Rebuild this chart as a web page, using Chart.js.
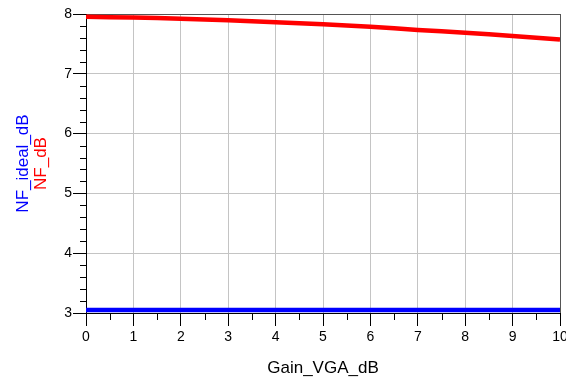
<!DOCTYPE html>
<html>
<head>
<meta charset="utf-8">
<script src="https://cdn.jsdelivr.net/npm/chart.js@4/dist/chart.umd.min.js"></script>
<style>
  html, body { margin: 0; padding: 0; background: #fff; }
  #wrap { width: 566px; height: 381px; }
</style>
</head>
<body>
<div id="wrap"><canvas id="c" width="566" height="381"></canvas></div>
<script>
// Sweep of VGA gain and resulting noise figures
const gainVGA   = [0, 1, 2, 3, 4, 5, 6, 7, 8, 9, 10];
const nfDb      = [7.952, 7.942, 7.921, 7.894, 7.862, 7.828, 7.788, 7.734, 7.686, 7.634, 7.574];
const nfIdealDb = [3.05, 3.05, 3.05, 3.05, 3.05, 3.05, 3.05, 3.05, 3.05, 3.05, 3.05];

// Axis ranges and tick spacing
const xRange = [0, 10];
const yRange = [3, 8];
const xMajorStep = 1, xMinorStep = 0.5;
const yMajorStep = 1, yMinorStep = 0.2;

const FONT = "'Liberation Sans', Arial, sans-serif";

const toPoints = (xs, ys) => xs.map((x, i) => ({ x: x, y: ys[i] }));

// Short minor tick marks outside the axes, plus the two-colour y title
const minorTicks = {
  id: 'minorTicks',
  afterDraw(chart) {
    const { ctx, chartArea, scales } = chart;
    ctx.save();
    ctx.strokeStyle = '#000';
    ctx.lineWidth = 1;
    ctx.beginPath();
    const ys = scales.y;
    for (let v = yRange[0]; v <= yRange[1] + 1e-9; v += yMinorStep) {
      if (Math.abs(v - Math.round(v / yMajorStep) * yMajorStep) < 1e-6) continue;
      const py = Math.round(ys.getPixelForValue(v)) + 0.5;
      ctx.moveTo(chartArea.left - 6, py);
      ctx.lineTo(chartArea.left, py);
    }
    const xs = scales.x;
    for (let v = xRange[0]; v <= xRange[1] + 1e-9; v += xMinorStep) {
      if (Math.abs(v - Math.round(v / xMajorStep) * xMajorStep) < 1e-6) continue;
      const px = Math.round(xs.getPixelForValue(v)) + 0.5;
      ctx.moveTo(px, chartArea.bottom);
      ctx.lineTo(px, chartArea.bottom + 7);
    }
    ctx.stroke();

    const midY = (chartArea.top + chartArea.bottom) / 2;
    ctx.font = '17px ' + FONT;
    ctx.textAlign = 'center';
    ctx.textBaseline = 'middle';
    const titles = [
      { text: 'NF_ideal_dB', color: '#0000ff', x: 23 },
      { text: 'NF_dB', color: '#ff0000', x: 41 }
    ];
    titles.forEach(t => {
      ctx.save();
      ctx.translate(t.x, midY);
      ctx.rotate(-Math.PI / 2);
      ctx.fillStyle = t.color;
      ctx.fillText(t.text, 0, 0);
      ctx.restore();
    });
    ctx.restore();
  }
};

new Chart(document.getElementById('c'), {
  type: 'line',
  data: {
    datasets: [
      {
        label: 'NF_dB',
        data: toPoints(gainVGA, nfDb),
        borderColor: '#ff0000',
        borderWidth: 4.5,
        pointRadius: 0,
        tension: 0.3
      },
      {
        label: 'NF_ideal_dB',
        data: toPoints(gainVGA, nfIdealDb),
        borderColor: '#0000ff',
        borderWidth: 4.5,
        pointRadius: 0
      }
    ]
  },
  plugins: [minorTicks],
  options: {
    responsive: false,
    animation: false,
    devicePixelRatio: 1,
    layout: { padding: { top: 14, right: 6, left: 0, bottom: 0 } },
    plugins: { legend: { display: false }, tooltip: { enabled: false } },
    scales: {
      x: {
        type: 'linear',
        min: xRange[0],
        max: xRange[1],
        ticks: {
          stepSize: xMajorStep,
          color: '#000',
          font: { family: FONT, size: 14 },
          padding: 3,
          maxRotation: 0
        },
        grid: {
          color: c => c.tick.value === xRange[0] ? 'rgba(0,0,0,0)' : (c.tick.value === xRange[1] ? '#555555' : '#c4c4c4'),
          tickColor: '#000',
          tickLength: 13,
          lineWidth: 1
        },
        border: { display: true, color: '#000', width: 1 },
        title: {
          display: true,
          text: 'Gain_VGA_dB',
          color: '#000',
          font: { family: FONT, size: 17 },
          padding: { top: 0, bottom: 2 }
        },
        afterFit(scale) {
          scale.height = 68;
          scale.paddingLeft = 0;
          scale.paddingRight = 0;
        }
      },
      y: {
        type: 'linear',
        min: yRange[0],
        max: yRange[1],
        ticks: {
          stepSize: yMajorStep,
          color: '#000',
          font: { family: FONT, size: 14 },
          padding: 1
        },
        grid: {
          color: c => c.tick.value === yRange[0] ? 'rgba(0,0,0,0)' : (c.tick.value === yRange[1] ? '#555555' : '#c4c4c4'),
          tickColor: '#000',
          tickLength: 13,
          lineWidth: 1
        },
        border: { display: true, color: '#000', width: 1 },
        afterFit(scale) {
          scale.width = 86;
          scale.paddingTop = 0;
          scale.paddingBottom = 0;
        }
      }
    }
  }
});
</script>
</body>
</html>
